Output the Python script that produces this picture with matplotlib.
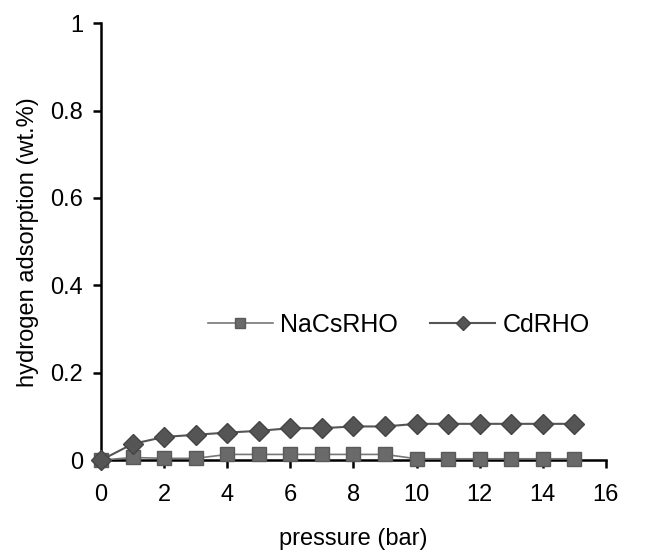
import matplotlib.pyplot as plt

plt.rcParams['font.family'] = ['Liberation Sans', 'DejaVu Sans']

# presion (bar)
presion = list(range(0, 16))

# adsorcion de hidrogeno (wt.%)
nacsrho = [0, 0.006, 0.004, 0.004, 0.013, 0.013, 0.013, 0.013, 0.013, 0.013,
           0.003, 0.003, 0.003, 0.003, 0.003, 0.003]
cdrho = [0, 0.037, 0.053, 0.058, 0.063, 0.067, 0.073, 0.073, 0.077, 0.077,
         0.083, 0.083, 0.083, 0.083, 0.083, 0.083]

fig = plt.figure(figsize=(6.48, 5.53), dpi=100)
ax = fig.add_axes([0.156, 0.168, 0.779, 0.79])

ax.plot(presion, nacsrho, color='#777777', lw=1.2, marker='s', ms=10,
        mfc='#6a6a6a', mec='#5a5a5a', label='NaCsRHO', clip_on=False, zorder=3)
ax.plot(presion, cdrho, color='#555555', lw=1.5, marker='D', ms=10,
        mfc='#555555', mec='#444444', label='CdRHO', clip_on=False, zorder=3)

ax.set_xlim(0, 16)
ax.set_ylim(0, 1)
ax.set_xticks(range(0, 17, 2))
ax.set_yticks([0, 0.2, 0.4, 0.6, 0.8, 1])
ax.set_yticklabels(['0', '0.2', '0.4', '0.6', '0.8', '1'])

for s in ['top', 'right']:
    ax.spines[s].set_visible(False)
for s in ['left', 'bottom']:
    ax.spines[s].set_linewidth(1.8)

ax.tick_params(direction='out', length=6, width=1.8, labelsize=17)
ax.tick_params(axis='x', pad=11)
ax.tick_params(axis='y', pad=7)

ax.set_xlabel('pressure (bar)', fontsize=17, labelpad=16)
ax.set_ylabel('hydrogen adsorption (wt.%)', fontsize=17, labelpad=8)

ax.legend(loc='center', bbox_to_anchor=(0.59, 0.31), ncol=2, frameon=False,
          fontsize=18, handlelength=2.6, handletextpad=0.3, columnspacing=1.3,
          markerscale=0.75)

fig.savefig('out.png', dpi=100)
